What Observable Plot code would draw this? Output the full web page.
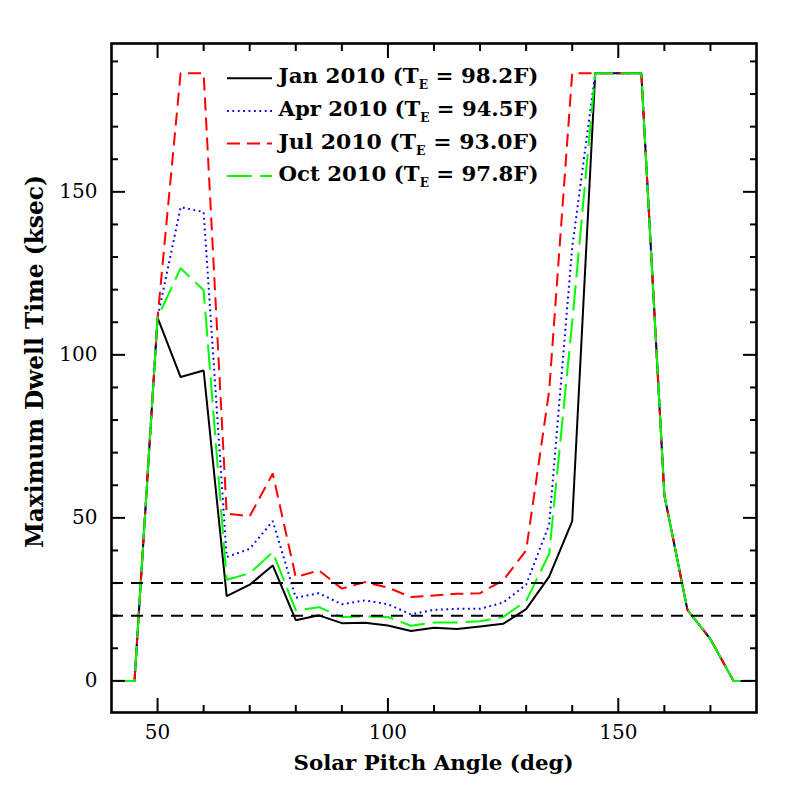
<!DOCTYPE html>
<html>
<head>
<meta charset="utf-8">
<script src="https://cdn.jsdelivr.net/npm/d3@7"></script>
<script src="https://cdn.jsdelivr.net/npm/@observablehq/plot@0.6"></script>
<style>
  html, body { margin: 0; padding: 0; background: #fff; }
</style>
</head>
<body>
<div id="chart"></div>
<script>
// ---- Data ----
const angles = [40, 45, 50, 55, 60, 65, 70, 75, 80, 85, 90, 95, 100, 105, 110, 115, 120, 125, 130, 135, 140, 145, 150, 155, 160, 165, 170, 175, 180];

const jan2010 = [0, 0, 111.4, 93.2, 95.2, 26.0, 29.5, 35.4, 18.6, 20.1, 17.7, 17.8, 17.0, 15.3, 16.3, 15.9, 16.7, 17.5, 22.0, 32.0, 49.0, 186.4, 186.4, 186.4, 57.0, 21.8, 12.8, 0, 0];
const apr2010 = [0, 0, 111.4, 145.3, 143.8, 38.0, 40.5, 49.0, 25.5, 26.9, 23.5, 24.7, 23.5, 20.4, 21.8, 22.1, 22.1, 24.0, 29.5, 48.0, 133.0, 186.4, 186.4, 186.4, 57.0, 21.8, 12.8, 0, 0];
const jul2010 = [0, 0, 111.4, 186.4, 186.4, 51.3, 50.5, 63.6, 31.8, 33.9, 28.3, 30.3, 28.6, 25.7, 26.2, 26.7, 26.9, 30.8, 40.0, 89.0, 186.4, 186.4, 186.4, 186.4, 57.0, 21.8, 12.8, 0, 0];
const oct2010 = [0, 0, 111.4, 126.6, 119.8, 31.0, 33.0, 39.5, 21.6, 22.6, 19.6, 19.8, 19.6, 16.9, 17.9, 17.9, 18.3, 19.6, 24.5, 39.0, 110.0, 186.4, 186.4, 186.4, 57.0, 21.8, 12.8, 0, 0];

const seriesNames = ["Jan 2010", "Apr 2010", "Jul 2010", "Oct 2010"];
const seriesTE = ["98.2F", "94.5F", "93.0F", "97.8F"];
const seriesColors = ["#000000", "#0000ff", "#ff0000", "#00ff00"];
const seriesDash = [null, "1.8,3.6", "13,7", "25,8"];

const limitLines = [20, 30];

const xMajorTicks = [50, 100, 150];
const xMinorTicks = [60, 70, 80, 90, 110, 120, 130, 140, 160, 170];
const yMajorTicks = [0, 50, 100, 150];
const yMinorTicks = [10, 20, 30, 40, 60, 70, 80, 90, 110, 120, 130, 140, 160, 170, 180, 190];

const xLabel = "Solar Pitch Angle (deg)";
const yLabel = "Maximum Dwell Time (ksec)";

// ---- Build tidy rows ----
const allSeries = [jan2010, apr2010, jul2010, oct2010];
const rows = allSeries.map((vals, s) => angles.map((a, i) => ({angle: a, dwell: vals[i], s})));

const lineMarks = rows.map((data, s) =>
  Plot.line(data, {
    x: "angle", y: "dwell",
    stroke: seriesColors[s],
    strokeWidth: 2,
    strokeDasharray: seriesDash[s] || undefined,
    strokeLinejoin: "miter",
    strokeLinecap: "butt"
  })
);

const tickStyle = {fill: "none", label: null, strokeWidth: 2, stroke: "black"};

const chart = Plot.plot({
  width: 797,
  height: 797,
  marginLeft: 111,
  marginRight: 41,
  marginTop: 43,
  marginBottom: 85,
  style: {background: "white", fontFamily: "DejaVu Serif", fontSize: "20px", color: "black"},
  x: {domain: [40, 180]},
  y: {domain: [-9.7, 195.5]},
  marks: [
    ...lineMarks,
    Plot.ruleY(limitLines, {stroke: "black", strokeWidth: 2, strokeDasharray: "12,8"}),
    // inward ticks on all four sides
    Plot.axisX(xMajorTicks, {anchor: "bottom", tickSize: 14, dy: -14, ...tickStyle}),
    Plot.axisX(xMinorTicks, {anchor: "bottom", tickSize: 7, dy: -7, ...tickStyle}),
    Plot.axisX(xMajorTicks, {anchor: "top", tickSize: 14, dy: 14, ...tickStyle}),
    Plot.axisX(xMinorTicks, {anchor: "top", tickSize: 7, dy: 7, ...tickStyle}),
    Plot.axisY(yMajorTicks, {anchor: "left", tickSize: 14, dx: 14, ...tickStyle}),
    Plot.axisY(yMinorTicks, {anchor: "left", tickSize: 7, dx: 7, ...tickStyle}),
    Plot.axisY(yMajorTicks, {anchor: "right", tickSize: 14, dx: -14, ...tickStyle}),
    Plot.axisY(yMinorTicks, {anchor: "right", tickSize: 7, dx: -7, ...tickStyle}),
    // tick labels
    Plot.axisX(xMajorTicks, {anchor: "bottom", tickSize: 0, tickPadding: 12, label: null, stroke: "none", fill: "black", fontSize: 20}),
    Plot.axisY(yMajorTicks, {anchor: "left", tickSize: 0, tickPadding: 14, label: null, stroke: "none", fill: "black", fontSize: 20}),
    Plot.frame({stroke: "black", strokeWidth: 2.6})
  ]
});

document.getElementById("chart").appendChild(chart);

// ---- Axis titles and legend (annotation layer) ----
const svg = d3.select(chart);
const ns = "DejaVu Serif";

svg.append("text")
  .attr("x", 433.5).attr("y", 770)
  .attr("text-anchor", "middle")
  .attr("font-family", ns).attr("font-weight", "bold").attr("font-size", 21)
  .attr("textLength", 280).attr("lengthAdjust", "spacingAndGlyphs")
  .attr("fill", "black")
  .text(xLabel);

svg.append("text")
  .attr("transform", "translate(42.5,361.5) rotate(-90)")
  .attr("text-anchor", "middle")
  .attr("font-family", ns).attr("font-weight", "bold").attr("font-size", 24)
  .attr("textLength", 373).attr("lengthAdjust", "spacingAndGlyphs")
  .attr("fill", "black")
  .text(yLabel);

const leg = svg.append("g").attr("text-anchor", "start");
seriesNames.forEach((name, i) => {
  const base = 83.3 + i * 32.6;
  const ln = leg.append("line")
    .attr("x1", 227).attr("x2", 272)
    .attr("y1", base - 5).attr("y2", base - 5)
    .attr("stroke", seriesColors[i]).attr("stroke-width", 2);
  if (seriesDash[i]) ln.attr("stroke-dasharray", seriesDash[i]);
  const t = leg.append("text")
    .attr("x", 278.5).attr("y", base)
    .attr("text-anchor", "start")
    .attr("font-family", ns).attr("font-weight", "bold").attr("font-size", 21)
    .attr("textLength", 260).attr("lengthAdjust", "spacingAndGlyphs")
    .attr("fill", "black");
  t.append("tspan").text(name + " (T");
  t.append("tspan").attr("font-size", 12).attr("dy", 6).text("E");
  t.append("tspan").attr("dy", -6).text(" = " + seriesTE[i] + ")");
});
</script>
</body>
</html>
